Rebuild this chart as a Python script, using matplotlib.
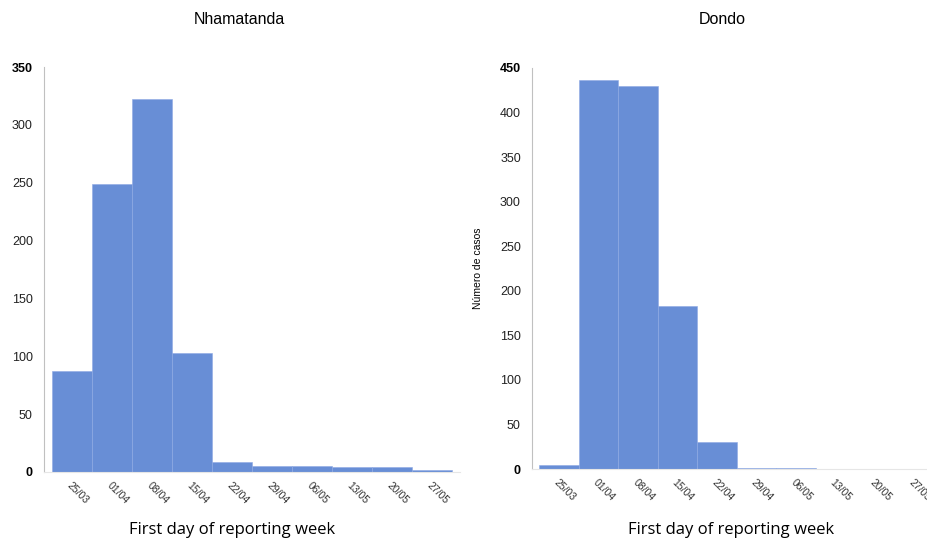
import matplotlib
matplotlib.use("Agg")
import matplotlib.pyplot as plt

plt.rcParams['font.family'] = ['Liberation Sans', 'DejaVu Sans']

weeks = ["25/03", "01/04", "08/04", "15/04", "22/04", "29/04", "06/05", "13/05", "20/05", "27/05"]
nhamatanda = [87, 249, 322, 103, 9, 5, 5, 4, 4, 2]
dondo = [5, 436, 430, 183, 30, 1, 1, 0.5, 0.5, 0.5]

bar_color = "#688ed6"
edge_color = "#8ea9e4"
spine_color = "#c0c0c0"

fig = plt.figure(figsize=(9.28, 5.41), dpi=100)


def draw(ax, values, ymax):
    x = list(range(len(values)))
    ax.bar(x, values, width=1.0, color=bar_color, edgecolor=edge_color, linewidth=0.4)
    ax.set_ylim(0, ymax)
    ax.set_yticks(range(0, ymax + 1, 50))
    ax.set_xticks(x)
    ax.set_xticklabels(weeks, rotation=-45, ha='left', va='top',
                       rotation_mode='anchor', fontsize=7.5, color='#333333')
    ax.tick_params(axis='both', length=0)
    ax.tick_params(axis='x', pad=6)
    ax.tick_params(axis='y', labelsize=9, pad=8, labelcolor='#222222')
    for lab in ax.get_yticklabels():
        if lab.get_text() in ("0", str(ymax)):
            lab.set_fontweight('bold')
            lab.set_color('black')
    for s in ("top", "right"):
        ax.spines[s].set_visible(False)
    ax.spines["left"].set_color(spine_color)
    ax.spines["bottom"].set_color("#e6e6e6")


ax1 = fig.add_axes([44 / 928, 1 - 472 / 541, 416 / 928, 405 / 541])
draw(ax1, nhamatanda, 350)
ax1.set_xlim(-0.7, 9.7)
fig.text(239 / 928, 1 - 19 / 541, "Nhamatanda", fontsize=11.5, ha='center', va='center')
fig.text(232 / 928, 1 - 530 / 541, "First day of reporting week",
         fontsize=12, family=['Open Sans', 'DejaVu Sans'], ha='center', va='center')

ax2 = fig.add_axes([532 / 928, 1 - 469 / 541, 410 / 928, 401 / 541])
draw(ax2, dondo, 450)
ax2.set_xlim(-0.68, 9.7)
ax2.set_ylabel("Número de casos", fontsize=7.5, labelpad=12)
fig.text(722 / 928, 1 - 19 / 541, "Dondo", fontsize=11.5, ha='center', va='center')
fig.text(731 / 928, 1 - 530 / 541, "First day of reporting week",
         fontsize=12, family=['Open Sans', 'DejaVu Sans'], ha='center', va='center')

fig.savefig("out.png", dpi=100)
